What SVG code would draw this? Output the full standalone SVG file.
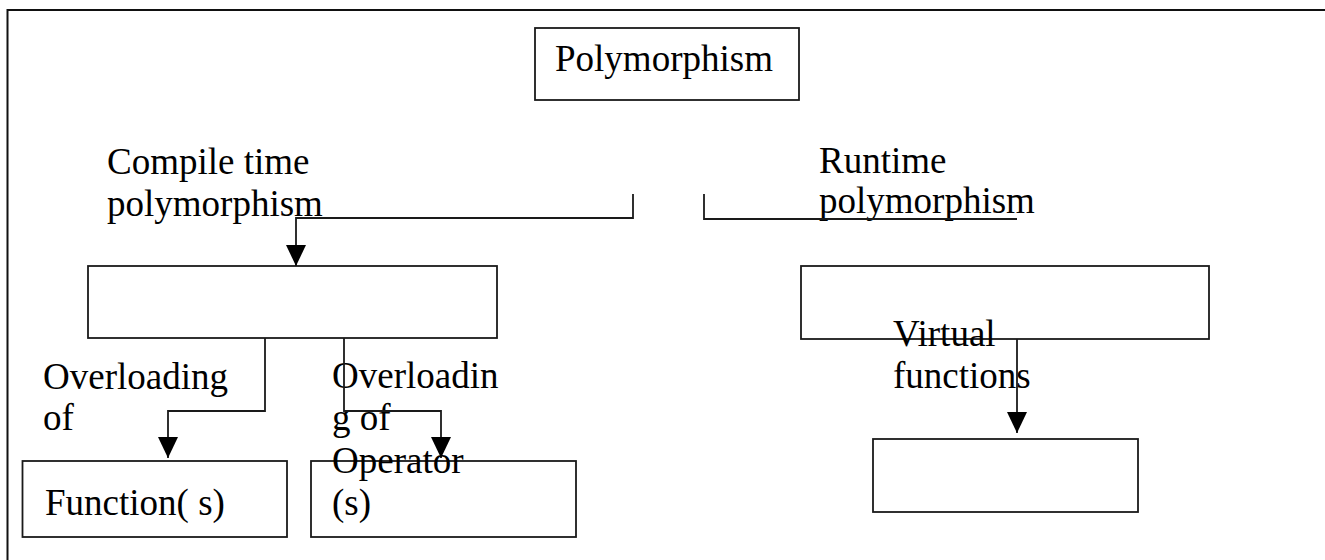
<svg xmlns="http://www.w3.org/2000/svg" width="1325" height="560" viewBox="0 0 1325 560">
  <style>
    .box { fill: none; stroke: #1a1a1a; stroke-width: 1.8; }
    .wire { fill: none; stroke: #1a1a1a; stroke-width: 1.8; }
    .frame { fill: none; stroke: #111; stroke-width: 2; }
    .label { font-family: "Liberation Serif", "Times New Roman", serif; font-size: 37px; fill: #000; }
  </style>
  <defs>
    <marker id="arrow" viewBox="0 0 21 20" refX="21" refY="10" markerWidth="21" markerHeight="20" markerUnits="userSpaceOnUse" orient="auto">
      <path d="M0,0 L21,10 L0,20 z" fill="#000"/>
    </marker>
  </defs>
  <rect width="1325" height="560" fill="#fff"/>

  <!-- page frame (top and left edges only) -->
  <path class="frame" d="M7.5,560 V10 H1325"/>

  <g id="polymorphism">
    <rect class="box" x="535" y="28" width="264" height="72"/>
    <text class="label" x="555" y="71">Polymorphism</text>
  </g>

  <g id="compile-time">
    <text class="label" x="107" y="174">Compile time</text>
    <text class="label" x="107" y="216">polymorphism</text>
    <rect class="box" x="88" y="266" width="409" height="72"/>
  </g>

  <g id="runtime">
    <text class="label" x="819" y="173">Runtime</text>
    <text class="label" x="819" y="213">polymorphism</text>
    <rect class="box" x="801" y="266" width="408" height="73"/>
  </g>

  <g id="function-overloading">
    <text class="label" x="43" y="389">Overloading</text>
    <text class="label" x="43" y="430">of</text>
    <rect class="box" x="22.5" y="461" width="264.5" height="76"/>
    <text class="label" x="45" y="515">Function( s)</text>
  </g>

  <g id="operator-overloading">
    <text class="label" x="332" y="388">Overloadin</text>
    <text class="label" x="332" y="430">g of</text>
    <rect class="box" x="311" y="461" width="265" height="76"/>
    <text class="label" x="332" y="473">Operator</text>
    <text class="label" x="332" y="515">(s)</text>
  </g>

  <g id="virtual-functions">
    <text class="label" x="893" y="346">Virtual</text>
    <text class="label" x="893" y="388">functions</text>
    <rect class="box" x="873" y="439" width="265" height="73"/>
  </g>

  <g id="connectors">
    <path class="wire" d="M633,194 V218 H296 V266" marker-end="url(#arrow)"/>
    <path class="wire" d="M704,194 V219 H1017"/>
    <path class="wire" d="M265,338 V411 H168 V458" marker-end="url(#arrow)"/>
    <path class="wire" d="M344,338 V411 H441 V458" marker-end="url(#arrow)"/>
    <path class="wire" d="M1017,339 V433" marker-end="url(#arrow)"/>
  </g>
</svg>
